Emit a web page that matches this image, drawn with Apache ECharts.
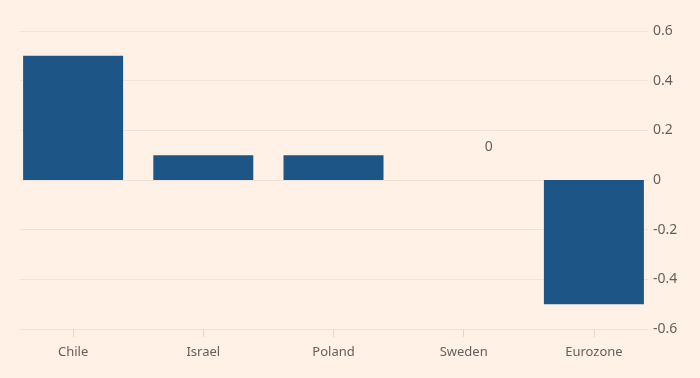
<!DOCTYPE html>
<html>
<head>
<meta charset="utf-8">
<script src="https://cdn.jsdelivr.net/npm/echarts@6/dist/echarts.min.js"></script>
<style>
html,body{margin:0;padding:0;background:#fff1e5;}
#c{width:700px;height:378px;}
</style>
</head>
<body>
<div id="c"></div>
<script>
const categories = ['Chile', 'Israel', 'Poland', 'Sweden', 'Eurozone'];
const values = [0.5, 0.1, 0.1, 0, -0.5];
const yMin = -0.6, yMax = 0.6, yStep = 0.2;
const labelledCategory = 'Sweden';

const textColor = '#66605c';
const gridColor = '#efe2d6';
const font = 'Noto Sans';

const chart = echarts.init(document.getElementById('c'), null, {renderer: 'canvas'});
chart.setOption({
  backgroundColor: '#fff1e5',
  animation: false,
  grid: [
    {left: 20, right: 52, top: 31, bottom: 49},
    {left: 8, right: 41, top: 31, bottom: 49}
  ],
  xAxis: [
    {gridIndex: 0, type: 'category', data: categories, show: false},
    {
      gridIndex: 1, type: 'category', data: categories,
      axisLine: {show: false, onZero: false},
      axisTick: {show: true, alignWithLabel: true, length: 8, lineStyle: {color: '#e3d6ca'}},
      axisLabel: {color: textColor, fontFamily: font, fontSize: 13, margin: 17}
    }
  ],
  yAxis: [
    {
      gridIndex: 0, type: 'value', position: 'right', min: yMin, max: yMax, interval: yStep,
      axisLine: {show: false}, axisTick: {show: false},
      axisLabel: {color: textColor, fontFamily: font, fontSize: 14, margin: 5,
        formatter: v => String(Math.round(v * 10) / 10)},
      splitLine: {show: true, lineStyle: {color: gridColor, width: 1}}
    },
    {
      gridIndex: 1, type: 'value', min: yMin, max: yMax, interval: yStep, show: false
    }
  ],
  series: [{
    type: 'bar',
    xAxisIndex: 1, yAxisIndex: 1,
    barWidth: 100,
    itemStyle: {color: '#1e5587'},
    data: values.map((v, i) => ({
      value: v,
      label: categories[i] === labelledCategory ? {
        show: true, position: 'top', distance: 26, offset: [25, 0],
        color: textColor, fontFamily: font, fontSize: 14
      } : {show: false}
    }))
  }]
});
</script>
</body>
</html>
